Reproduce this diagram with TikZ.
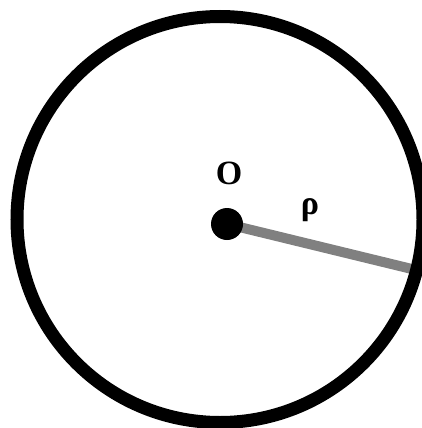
\documentclass[tikz,border=0pt]{standalone}
\usepackage{fontspec}
\setmainfont{Liberation Serif}
\definecolor{radgray}{HTML}{808080}
\tikzset{
  ring/.style={circle, draw=black, line width=13pt, minimum size=406pt, inner sep=0pt},
  centredot/.style={circle, fill=black, minimum size=32pt, inner sep=0pt},
  radius line/.style={draw=radgray, line width=10pt},
  lbl/.style={font=\bfseries\fontsize{34}{40}\selectfont, inner sep=0pt}
}
\begin{document}
\begin{tikzpicture}[x=1pt,y=-1pt]
\useasboundingbox (0,0) rectangle (422,428);
\coordinate (Oc) at (227,224);
\coordinate (E) at (416,270);
\draw[radius line] (Oc) -- (E);
\node[ring] (circ) at (220,219.5) {};
\node[centredot] (dot) at (Oc) {};
\node[lbl] (lO) at (229,173.5) {O};
\node[lbl] (lrho) at (310,210) {ρ};
\end{tikzpicture}
\end{document}
